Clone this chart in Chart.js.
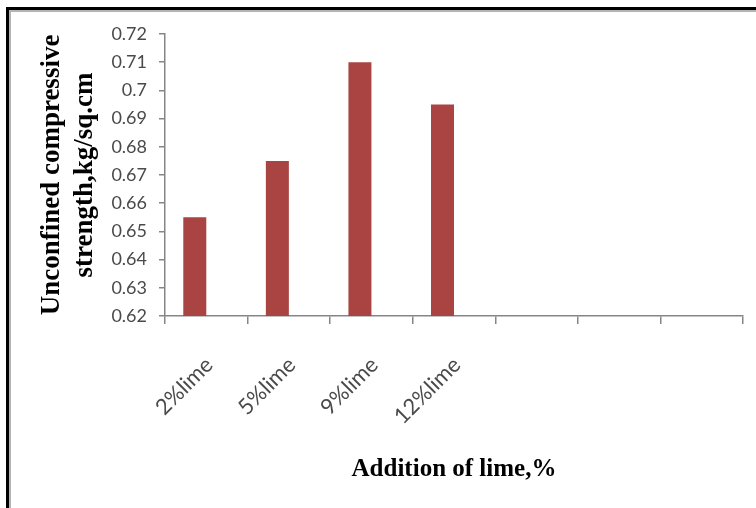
<!DOCTYPE html>
<html>
<head>
<meta charset="utf-8">
<script src="https://cdn.jsdelivr.net/npm/chart.js@4"></script>
<style>
  html, body { margin: 0; padding: 0; background: #fff; }
  #wrap { position: relative; width: 756px; height: 508px; overflow: hidden; }
  #frame {
    position: absolute; left: 6px; top: 7px; width: 760px; height: 520px;
    border-left: 3px solid #000; border-top: 3px solid #000;
  }
  #frame2 {
    position: absolute; left: 0; top: 0; right: 0; bottom: 0;
    border-left: 2px solid #b4b4b4; border-top: 2px solid #b4b4b4;
  }
  canvas { position: absolute; left: 0; top: 0; }
</style>
</head>
<body>
<div id="wrap">
  <div id="frame"><div id="frame2"></div></div>
  <canvas id="grafico_cal" width="756" height="508"></canvas>
</div>
<script>
// categorias do eixo x (as três últimas ficam vazias, como no original)
const categorias = ['2%lime', '5%lime', '9%lime', '12%lime', '', '', '']
// resistência à compressão não confinada, kg/sq.cm
const resistencia = [0.655, 0.675, 0.71, 0.695, null, null, null]
// segunda série vazia que o Excel deixou no gráfico
const serieVazia = [null, null, null, null, null, null, null]

const corBarra = '#a94442'
const corEixo = '#868686'

const desenharGrafico = () => {
    const ctx = document.querySelector('#grafico_cal')

    new Chart(ctx, {
        type: 'bar',
        data: {
            labels: categorias,
            datasets: [
                { label: 'Series1', data: resistencia, backgroundColor: corBarra },
                { label: 'Series2', data: serieVazia, backgroundColor: corBarra }
            ]
        },
        options: {
            responsive: false,
            animation: false,
            layout: { padding: { top: 34, right: 13, left: 0, bottom: 0 } },
            datasets: { bar: { categoryPercentage: 0.557, barPercentage: 1 } },
            plugins: {
                legend: { display: false },
                tooltip: { enabled: false }
            },
            scales: {
                x: {
                    afterFit: (scale) => { scale.height = 192 },
                    border: { color: corEixo, width: 1.5 },
                    grid: { offset: true, drawOnChartArea: false, drawTicks: true, tickLength: 8, color: corEixo, lineWidth: 1.5 },
                    ticks: {
                        autoSkip: false, maxRotation: 45, minRotation: 45,
                        color: '#4a4a4a', padding: 28, labelOffset: 3,
                        font: { family: 'Lato', size: 22 }
                    },
                    title: {
                        display: true, text: 'Addition of lime,%', color: '#000',
                        font: { family: 'Liberation Serif', size: 25, weight: 'bold' },
                        padding: { top: 0, bottom: 23 }
                    }
                },
                y: {
                    min: 0.62, max: 0.72,
                    afterFit: (scale) => { scale.width = 165 },
                    border: { color: corEixo, width: 1.5 },
                    grid: { drawOnChartArea: false, drawTicks: true, tickLength: 6, color: corEixo, lineWidth: 1.5 },
                    ticks: {
                        stepSize: 0.01, color: '#4a4a4a', padding: 12,
                        font: { family: 'Lato', size: 18 },
                        callback: (v) => parseFloat(v.toFixed(2)).toString()
                    },
                    title: {
                        display: true, text: ['Unconfined compressive', 'strength,kg/sq.cm'], color: '#000',
                        font: { family: 'Liberation Serif', size: 27, weight: 'bold', lineHeight: 1.2 },
                        padding: { top: 36, bottom: 0 }
                    }
                }
            }
        }
    })
}

desenharGrafico()
</script>
</body>
</html>
